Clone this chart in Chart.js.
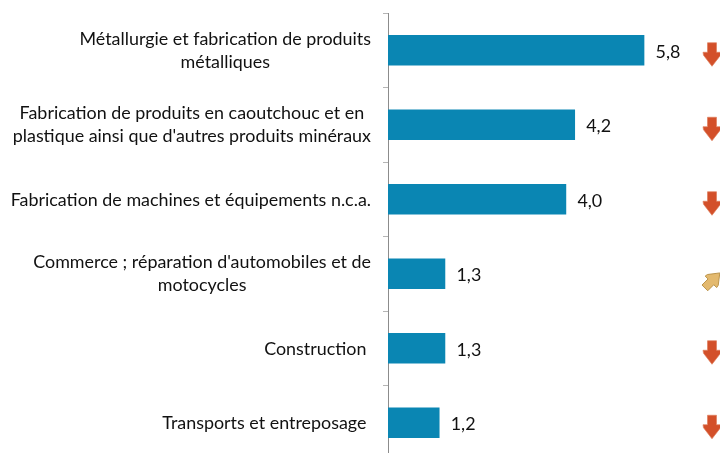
<!DOCTYPE html>
<html>
<head>
<meta charset="utf-8">
<style>
  html, body { margin: 0; padding: 0; background: #fff; overflow: hidden; }
  #wrap { width: 720px; height: 453px; overflow: hidden; }
</style>
<script src="https://cdn.jsdelivr.net/npm/chart.js@4"></script>
</head>
<body>
<div id="wrap"><canvas id="c" width="720" height="461"></canvas></div>
<script>
const categories = [
  ['Métallurgie et fabrication de produits', 'métalliques'],
  ['Fabrication de produits en caoutchouc et en', "plastique ainsi que d'autres produits minéraux"],
  ['Fabrication de machines et équipements n.c.a.'],
  ["Commerce ; réparation d'automobiles et de", 'motocycles'],
  ['Construction '],
  ['Transports et entreposage ']
];
const values = [5.8, 4.23, 4.03, 1.29, 1.29, 1.16];
const trends = ['down', 'down', 'down', 'upRight', 'down', 'down'];

const FONT = '17.9px Lato';

// draws an arrow pointing down, centred on 0,0
function arrowPath(ctx, shaft) {
  ctx.beginPath();
  ctx.moveTo(-shaft, -12);
  ctx.lineTo(shaft, -12);
  ctx.lineTo(shaft, -2.5);
  ctx.lineTo(9, -2.5);
  ctx.lineTo(8.5, 0.5);
  ctx.lineTo(0, 11.5);
  ctx.lineTo(-8.5, 0.5);
  ctx.lineTo(-9, -2.5);
  ctx.lineTo(-shaft, -2.5);
  ctx.closePath();
}

const labelsPlugin = {
  id: 'labels',
  afterDraw(chart) {
    const ctx = chart.ctx;
    const y = chart.scales.y;
    const x = chart.scales.x;
    ctx.save();
    ctx.font = FONT;
    ctx.fillStyle = '#111';
    ctx.textBaseline = 'middle';
    categories.forEach((lines, i) => {
      const cy = y.getPixelForValue(i);
      // category names: centred block, right edge against the axis
      const w = Math.max(...lines.map(l => ctx.measureText(l).width));
      ctx.textAlign = 'center';
      lines.forEach((l, k) => {
        const off = lines.length === 1 ? 0.5 : (k - 0.5) * 23;
        ctx.fillText(l, 371 - w / 2, cy + off);
      });
      // value next to bar
      ctx.textAlign = 'left';
      ctx.fillText(values[i].toFixed(1).replace('.', ','), x.getPixelForValue(values[i]) + 11.5, cy + 1.5);
      // trend arrow
      ctx.save();
      if (trends[i] === 'down') {
        ctx.translate(712, cy + 4.5);
        ctx.fillStyle = '#d3502a';
        ctx.strokeStyle = '#e0805f';
        ctx.lineWidth = 0.7;
        arrowPath(ctx, 4.5);
      } else {
        ctx.translate(712.5, cy + 6.5);
        ctx.rotate(-135 * Math.PI / 180);
        ctx.scale(0.9, 0.9);
        ctx.fillStyle = '#e3b96e';
        ctx.strokeStyle = '#b99146';
        ctx.lineWidth = 1;
        arrowPath(ctx, 4.5);
      }
      ctx.fill();
      ctx.stroke();
      ctx.restore();
    });
    ctx.restore();
  }
};

new Chart(document.getElementById('c'), {
  type: 'bar',
  data: {
    labels: categories,
    datasets: [{
      data: values,
      backgroundColor: '#0a86b3',
      borderWidth: 0,
      barThickness: 30
    }]
  },
  options: {
    indexAxis: 'y',
    responsive: false,
    animation: false,
    layout: { padding: { top: 13, right: 23, bottom: 1, left: 0 } },
    plugins: { legend: { display: false }, tooltip: { enabled: false } },
    scales: {
      x: { display: false, min: 0, max: 7 },
      y: {
        afterFit(s) { s.width = 388; },
        border: { color: '#8c8c8c', width: 1 },
        grid: { offset: true, drawOnChartArea: false, drawTicks: true, tickLength: 5, color: '#b5b5b5' },
        ticks: { display: false }
      }
    }
  },
  plugins: [labelsPlugin]
});
</script>
</body>
</html>
